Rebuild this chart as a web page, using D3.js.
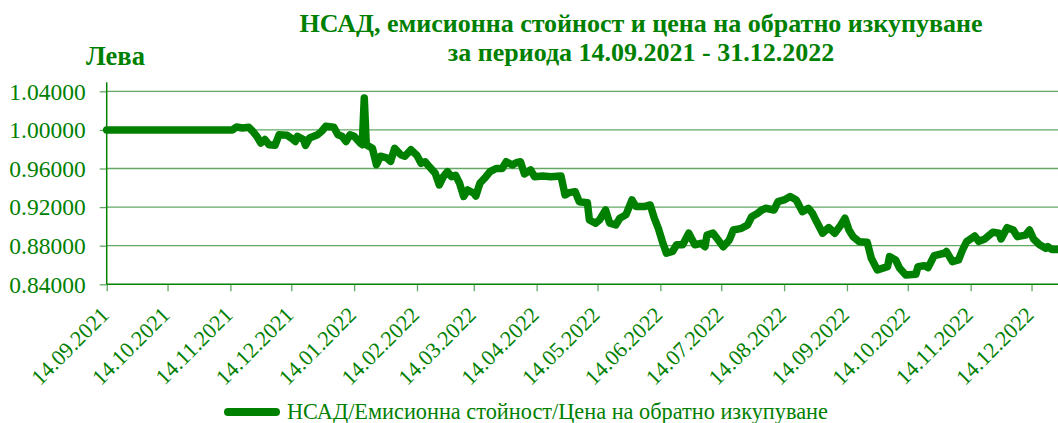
<!DOCTYPE html>
<html>
<head>
<meta charset="utf-8">
<script src="https://cdn.jsdelivr.net/npm/d3@7"></script>
<style>
  body { margin: 0; background: #fff; }
  #plot svg { display: block; }
</style>
</head>
<body>
<div id="plot"></div>
<script>
// chart data
const titleLines = ["НСАД, емисионна стойност и цена на обратно изкупуване", "за периода 14.09.2021 - 31.12.2022"];
const yTitle = "Лева";
const seriesName = "НСАД/Емисионна стойност/Цена на обратно изкупуване";

const yTicks = [0.84, 0.88, 0.92, 0.96, 1.00, 1.04];
const xTicks = ["14.09.2021", "14.10.2021", "14.11.2021", "14.12.2021", "14.01.2022", "14.02.2022",
  "14.03.2022", "14.04.2022", "14.05.2022", "14.06.2022", "14.07.2022", "14.08.2022",
  "14.09.2022", "14.10.2022", "14.11.2022", "14.12.2022"];
const xDomain = ["14.09.2021", "31.12.2022"];

// [date, value]
const navSeries = [
  ["14.09.2021", 1.0000], ["15.11.2021", 1.0000], ["17.11.2021", 1.0030], ["20.11.2021", 1.0020],
  ["23.11.2021", 1.0027], ["25.11.2021", 0.9986], ["27.11.2021", 0.9934], ["29.11.2021", 0.9864],
  ["01.12.2021", 0.9900], ["03.12.2021", 0.9847], ["06.12.2021", 0.9840], ["08.12.2021", 0.9950],
  ["12.12.2021", 0.9944], ["14.12.2021", 0.9916], ["16.12.2021", 0.9880], ["17.12.2021", 0.9934],
  ["20.12.2021", 0.9900], ["21.12.2021", 0.9840], ["23.12.2021", 0.9916], ["27.12.2021", 0.9950],
  ["29.12.2021", 0.9986], ["31.12.2021", 1.0037],
  ["04.01.2022", 1.0027], ["06.01.2022", 0.9950], ["08.01.2022", 0.9934], ["10.01.2022", 0.9880],
  ["12.01.2022", 0.9950], ["14.01.2022", 0.9934], ["17.01.2022", 0.9864], ["18.01.2022", 0.9847],
  ["19.01.2022", 1.0330], ["20.01.2022", 0.9847], ["23.01.2022", 0.9810], ["25.01.2022", 0.9640],
  ["27.01.2022", 0.9727], ["30.01.2022", 0.9710],
  ["01.02.2022", 0.9675], ["03.02.2022", 0.9810], ["06.02.2022", 0.9743], ["08.02.2022", 0.9727],
  ["11.02.2022", 0.9795], ["14.02.2022", 0.9735], ["16.02.2022", 0.9654], ["18.02.2022", 0.9670],
  ["20.02.2022", 0.9620], ["23.02.2022", 0.9550], ["25.02.2022", 0.9430], ["27.02.2022", 0.9515],
  ["01.03.2022", 0.9567], ["03.03.2022", 0.9515], ["05.03.2022", 0.9530], ["07.03.2022", 0.9447],
  ["09.03.2022", 0.9310], ["11.03.2022", 0.9377], ["14.03.2022", 0.9343], ["15.03.2022", 0.9315],
  ["17.03.2022", 0.9447], ["20.03.2022", 0.9515], ["22.03.2022", 0.9567], ["25.03.2022", 0.9600],
  ["28.03.2022", 0.9600], ["30.03.2022", 0.9670],
  ["02.04.2022", 0.9636], ["04.04.2022", 0.9660], ["06.04.2022", 0.9670], ["08.04.2022", 0.9543],
  ["11.04.2022", 0.9585], ["13.04.2022", 0.9515], ["17.04.2022", 0.9523], ["21.04.2022", 0.9515],
  ["26.04.2022", 0.9523], ["28.04.2022", 0.9326], ["30.04.2022", 0.9350],
  ["03.05.2022", 0.9360], ["05.05.2022", 0.9256], ["09.05.2022", 0.9246], ["10.05.2022", 0.9067],
  ["13.05.2022", 0.9033], ["15.05.2022", 0.9067], ["18.05.2022", 0.9170], ["20.05.2022", 0.9033],
  ["23.05.2022", 0.9015], ["25.05.2022", 0.9085], ["28.05.2022", 0.9120], ["31.05.2022", 0.9274],
  ["02.06.2022", 0.9205], ["06.06.2022", 0.9205], ["09.06.2022", 0.9222], ["11.06.2022", 0.9085],
  ["13.06.2022", 0.8980], ["15.06.2022", 0.8842], ["17.06.2022", 0.8722], ["20.06.2022", 0.8740],
  ["22.06.2022", 0.8810], ["25.06.2022", 0.8810], ["28.06.2022", 0.8930],
  ["01.07.2022", 0.8810], ["04.07.2022", 0.8825], ["06.07.2022", 0.8790], ["07.07.2022", 0.8910],
  ["10.07.2022", 0.8930], ["15.07.2022", 0.8790], ["18.07.2022", 0.8860], ["20.07.2022", 0.8963],
  ["24.07.2022", 0.8980], ["27.07.2022", 0.9015], ["29.07.2022", 0.9100],
  ["01.08.2022", 0.9136], ["03.08.2022", 0.9170], ["05.08.2022", 0.9188], ["09.08.2022", 0.9170],
  ["11.08.2022", 0.9256], ["14.08.2022", 0.9274], ["17.08.2022", 0.9310], ["20.08.2022", 0.9274],
  ["23.08.2022", 0.9153], ["26.08.2022", 0.9188], ["28.08.2022", 0.9136], ["30.08.2022", 0.9050],
  ["02.09.2022", 0.8930], ["05.09.2022", 0.8987], ["08.09.2022", 0.8930], ["11.09.2022", 0.9015],
  ["13.09.2022", 0.9085], ["15.09.2022", 0.8963], ["17.09.2022", 0.8894], ["20.09.2022", 0.8842],
  ["24.09.2022", 0.8835], ["26.09.2022", 0.8670], ["29.09.2022", 0.8549],
  ["04.10.2022", 0.8583], ["05.10.2022", 0.8687], ["08.10.2022", 0.8652], ["10.10.2022", 0.8566],
  ["13.10.2022", 0.8497], ["18.10.2022", 0.8504], ["19.10.2022", 0.8583], ["22.10.2022", 0.8593],
  ["24.10.2022", 0.8573], ["27.10.2022", 0.8697],
  ["01.11.2022", 0.8722], ["02.11.2022", 0.8740], ["05.11.2022", 0.8635], ["08.11.2022", 0.8652],
  ["10.11.2022", 0.8757], ["12.11.2022", 0.8842], ["16.11.2022", 0.8900], ["18.11.2022", 0.8845],
  ["21.11.2022", 0.8870], ["25.11.2022", 0.8940], ["28.11.2022", 0.8930], ["29.11.2022", 0.8870],
  ["02.12.2022", 0.8987], ["05.12.2022", 0.8963], ["07.12.2022", 0.8894], ["11.12.2022", 0.8910],
  ["13.12.2022", 0.8963], ["15.12.2022", 0.8870], ["18.12.2022", 0.8810], ["21.12.2022", 0.8773],
  ["22.12.2022", 0.8790], ["24.12.2022", 0.8760], ["27.12.2022", 0.8760], ["31.12.2022", 0.8760]
];

const green = "#008000";
const gridColor = "#63a963";
const font = "'Liberation Serif', 'Times New Roman', serif";

const W = 1058, H = 423;
const plot = { left: 106.7, top: 91.3, bottom: 284.3, right: 1066 };

const parseDate = d3.timeParse("%d.%m.%Y");
const data = navSeries.map(d => ({ date: parseDate(d[0]), value: d[1] }));

const svg = d3.select("#plot").append("svg")
  .attr("width", W)
  .attr("height", H)
  .style("font-family", font);

const x = d3.scaleTime()
  .domain(xDomain.map(parseDate))
  .range([plot.left, plot.right]);

const y = d3.scaleLinear()
  .domain([yTicks[0], yTicks[yTicks.length - 1]])
  .range([plot.bottom, plot.top]);

// gridlines
svg.append("g")
  .selectAll("line")
  .data(yTicks.slice(1))
  .enter().append("line")
  .attr("x1", plot.left)
  .attr("x2", W)
  .attr("y1", d => y(d))
  .attr("y2", d => y(d))
  .attr("stroke", gridColor)
  .attr("stroke-width", 1.3);

// y axis
const yAxis = svg.append("g")
  .attr("transform", "translate(" + plot.left + ",0)")
  .call(d3.axisLeft(y).tickValues(yTicks).tickFormat(d3.format(".5f")).tickSize(7).tickPadding(14));
yAxis.select(".domain").remove();
yAxis.selectAll(".tick line").attr("stroke", gridColor).attr("stroke-width", 1.3);
yAxis.selectAll(".tick text")
  .attr("fill", green)
  .style("font-family", font)
  .style("font-size", "23.5px")
  .attr("dy", "0.33em");
svg.append("line")
  .attr("x1", plot.left).attr("x2", plot.left)
  .attr("y1", plot.top - 9).attr("y2", plot.bottom)
  .attr("stroke", green).attr("stroke-width", 1.5);

// x axis
const xAxis = svg.append("g")
  .attr("transform", "translate(0," + plot.bottom + ")")
  .call(d3.axisBottom(x).tickValues(xTicks.map(parseDate)).tickFormat(d3.timeFormat("%d.%m.%Y")).tickSize(7));
xAxis.select(".domain").remove();
xAxis.selectAll(".tick line").attr("stroke", gridColor).attr("stroke-width", 1.3);
xAxis.selectAll(".tick text")
  .attr("fill", green)
  .style("font-family", font)
  .style("font-size", "22px")
  .attr("text-anchor", "end")
  .attr("y", 0)
  .attr("dy", 0)
  .attr("transform", "translate(3,32) rotate(-45)");
svg.append("line")
  .attr("x1", plot.left).attr("x2", W)
  .attr("y1", plot.bottom).attr("y2", plot.bottom)
  .attr("stroke", green).attr("stroke-width", 1.5);

// the series line
const line = d3.line()
  .x(d => x(d.date))
  .y(d => y(d.value));

svg.append("path")
  .datum(data)
  .attr("d", line)
  .attr("fill", "none")
  .attr("stroke", green)
  .attr("stroke-width", 7.5)
  .attr("stroke-linejoin", "round")
  .attr("stroke-linecap", "round");

// titles
svg.append("g")
  .selectAll("text")
  .data(titleLines)
  .enter().append("text")
  .attr("x", 641)
  .attr("y", (d, i) => 32 + i * 29)
  .attr("text-anchor", "middle")
  .attr("fill", green)
  .style("font-size", "26px")
  .style("font-weight", "bold")
  .text(d => d);

svg.append("text")
  .attr("x", 86)
  .attr("y", 65)
  .attr("fill", green)
  .style("font-size", "26.5px")
  .style("font-weight", "bold")
  .text(yTitle);

// legend
svg.append("line")
  .attr("x1", 228).attr("x2", 276)
  .attr("y1", 412).attr("y2", 412)
  .attr("stroke", green)
  .attr("stroke-width", 8)
  .attr("stroke-linecap", "round");
svg.append("text")
  .attr("x", 287)
  .attr("y", 419)
  .attr("fill", green)
  .style("font-size", "22.3px")
  .text(seriesName);
</script>
</body>
</html>
